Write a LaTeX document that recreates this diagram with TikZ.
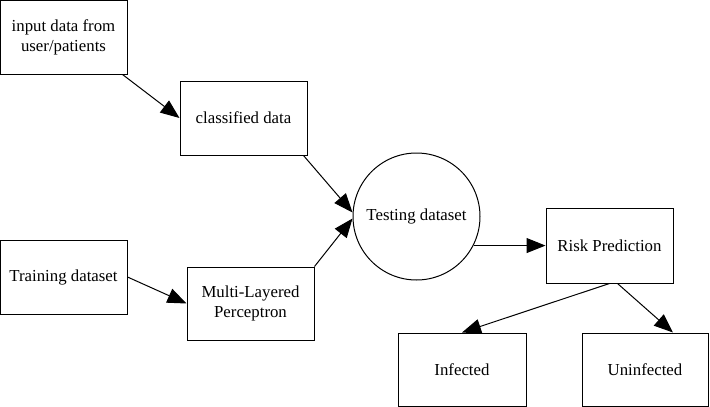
\documentclass[tikz,border=0pt]{standalone}
\usepackage{fontspec}
\setmainfont{Liberation Serif}
\usetikzlibrary{arrows.meta}
\begin{document}
\begin{tikzpicture}[x=1pt,y=-1pt,
  box/.style={draw=black,line width=1pt,rectangle,minimum width=#1,align=center,inner sep=0pt,
    font=\fontsize{16.8}{20}\selectfont},
  box/.default=127pt,
  circ/.style={draw=black,line width=1pt,circle,minimum size=127pt,inner sep=0pt,
    font=\fontsize{16.8}{20}\selectfont},
  arr/.style={draw=black,line width=1pt,-{Triangle[length=19pt,width=15pt]}}]
\useasboundingbox (0,0) rectangle (710,407);
\node[box, minimum height=74pt] (in) at (63.5,37) {input data from\\user/patients};
\node[box, minimum height=74pt] (cls) at (243.5,118) {classified data};
\node[circ] (test) at (416.5,216.5) {Testing dataset};
\node[box, minimum height=74pt] (train) at (63.5,277) {Training dataset};
\node[box, minimum height=73pt] (mlp) at (250.5,303.5) {Multi-Layered\\Perceptron};
\node[box, minimum height=75pt] (risk) at (609.5,245.5) {Risk Prediction};
\node[box=128pt, minimum height=73pt] (inf) at (462,369.5) {Infected};
\node[box=126pt, minimum height=73pt] (uninf) at (645,369.5) {Uninfected};
\draw[arr] ([xshift=-5pt]in.south east) -- (cls.west);
\draw[arr] ([xshift=-4pt]cls.south east) -- ([yshift=4pt]test.west);
\draw[arr] (mlp.north east) -- ([yshift=-2pt]test.west);
\draw[arr] (train.east) -- (mlp.west);
\draw[arr] (test.-27) -- (test.-27 -| risk.west);
\draw[arr] (risk.south) -- (inf.north);
\draw[arr] ([xshift=8pt]risk.south) -- ([xshift=28pt]uninf.north);
\end{tikzpicture}
\end{document}
